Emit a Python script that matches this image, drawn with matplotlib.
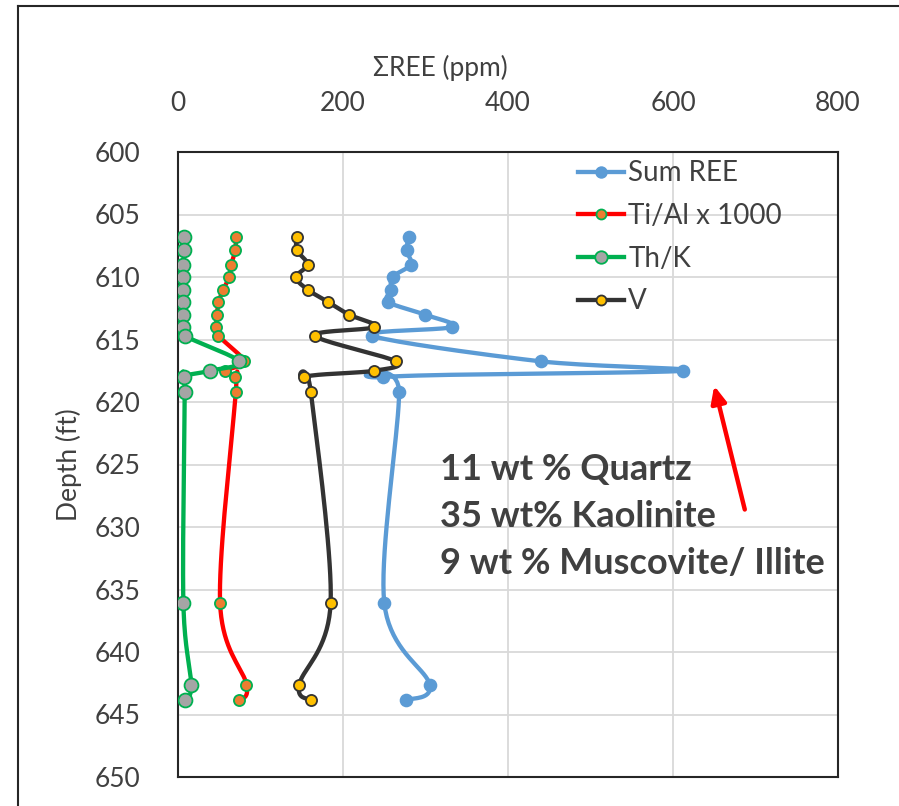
import numpy as np
import matplotlib
matplotlib.use("Agg")
import matplotlib.pyplot as plt
from matplotlib.lines import Line2D

plt.rcParams['font.family'] = ['Lato', 'DejaVu Sans']

depth = [606.8, 607.85, 609.0, 610.0, 611.0, 612.0, 613.0, 614.0, 614.7,
         616.75, 617.5, 618.0, 619.2, 636.05, 642.6, 643.85]
sum_ree = [280, 277, 282, 260, 258, 255, 299, 332, 235, 440, 612, 249, 268, 250, 305, 276]
ti_al = [70, 69.5, 64.5, 62, 55, 49, 47.5, 46, 49, 80, 56.5, 69.5, 70, 51, 83, 74]
th_k = [7.3, 7.3, 6.5, 6.5, 5.7, 5.7, 5.7, 6.5, 8.1, 74, 39, 7.3, 8.1, 6.5, 16, 8]
v = [144, 144, 157, 143, 157, 182, 207, 238, 166, 264, 238, 153, 161, 185, 147, 161]

x_ticks = [0, 200, 400, 600, 800]
y_ticks = list(range(600, 651, 5))
notes = ["11 wt % Quartz", "35 wt% Kaolinite", "9 wt % Muscovite/ Illite"]

txt = '#404040'

fig = plt.figure(figsize=(8.99, 8.06), dpi=100)
ax = fig.add_axes([178/899, 29/806, 660/899, 625/806])
ax.set_xlim(0, 800)
ax.set_ylim(650, 600)


def smooth(xs, ys, n=20):
    # excel-like smoothing: catmull-rom in display space
    pts = ax.transData.transform(np.column_stack([xs, ys]))
    p = np.vstack([pts[0], pts, pts[-1]])
    out = []
    for i in range(1, len(p) - 2):
        p0, p1, p2, p3 = p[i-1], p[i], p[i+1], p[i+2]
        c1 = p1 + (p2 - p0) / 6
        c2 = p2 - (p3 - p1) / 6
        t = np.linspace(0, 1, n)[:, None]
        seg = ((1-t)**3)*p1 + 3*((1-t)**2)*t*c1 + 3*(1-t)*t**2*c2 + t**3*p2
        out.append(seg)
    out = np.vstack(out)
    d = ax.transData.inverted().transform(out)
    return d[:, 0], d[:, 1]


series = [
    ("Sum REE", sum_ree, '#5B9BD5', '#5B9BD5', '#5B9BD5', 8.5),
    ("Ti/Al x 1000", ti_al, '#FF0000', '#ED7D31', '#00B050', 8),
    ("Th/K", th_k, '#00B050', '#A5A5A5', '#00B050', 10),
    ("V", v, '#333333', '#FFC000', '#333333', 8),
]

handles = []
for i, (name, vals, lc, fc, ec, ms) in enumerate(series):
    sx, sy = smooth(vals, depth)
    ax.plot(sx, sy, color=lc, lw=3.1, zorder=3 + 2*i, solid_capstyle='round')
    ax.plot(vals, depth, ls='none', marker='o', ms=ms, mfc=fc, mec=ec, mew=1.3,
            zorder=4 + 2*i)
    handles.append(Line2D([], [], color=lc, lw=3.1, marker='o', ms=ms*0.9,
                          mfc=fc, mec=ec, mew=1.3))

ax.legend(handles, [s[0] for s in series], loc='upper left',
          bbox_to_anchor=(392/660, 1.0), frameon=False, fontsize=20,
          handlelength=1.65, handletextpad=0.15, labelspacing=0.6,
          labelcolor=txt, borderaxespad=0.0, borderpad=0.3)

ax.set_xticks(x_ticks)
ax.set_yticks(y_ticks)
ax.xaxis.tick_top()
ax.tick_params(axis='both', length=0, labelsize=19, colors=txt)
ax.tick_params(axis='x', pad=26)
ax.tick_params(axis='y', pad=27)
ax.grid(True, color='#d9d9d9', lw=1.3)
ax.set_axisbelow(True)
for s in ax.spines.values():
    s.set_color('#262626')
    s.set_linewidth(1.5)

fig.text(440/899, 1 - 68/806, "ΣREE (ppm)", ha='center', va='center',
         fontsize=19, color=txt)
ax.set_ylabel("Depth (ft)", fontsize=19, color=txt, labelpad=9)

for k, note in enumerate(notes):
    ax.text(317, 625.4 + k*3.76, note, fontsize=26, fontweight='bold',
            color=txt, va='center', ha='left', zorder=20)

ax.annotate("", xy=(650, 618.7), xytext=(687, 628.6),
            arrowprops=dict(arrowstyle='-|>,head_width=0.45,head_length=1.0',
                            color='#FF0000', lw=3.2, shrinkA=0, shrinkB=0))

# outer chart border
fig.add_artist(Line2D([18/899, 18/899], [0, 1 - 6/806], color='#262626', lw=1.5))
fig.add_artist(Line2D([18/899, 1], [1 - 6/806, 1 - 6/806], color='#262626', lw=1.5))

fig.savefig("out.png", dpi=100)
